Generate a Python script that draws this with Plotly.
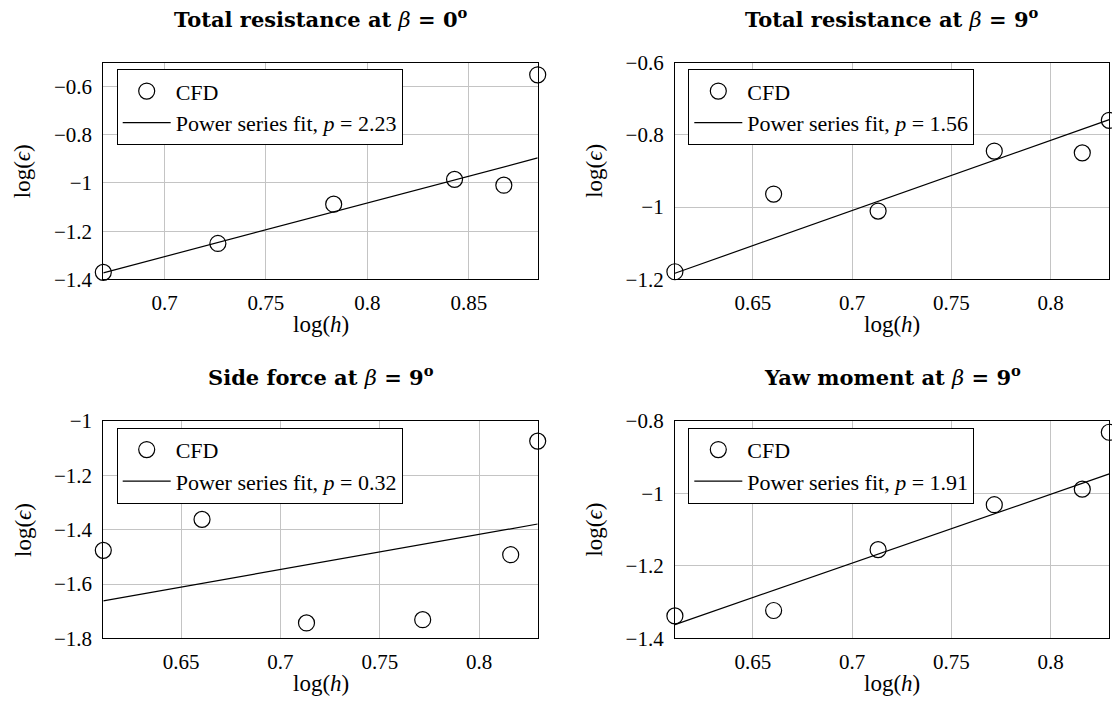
import plotly.graph_objects as go

# ---------------- data ----------------
titles = [
    "<b>Total resistance at </b><i>β</i><b> = 0<sup>o</sup></b>",
    "<b>Total resistance at </b><i>β</i><b> = 9<sup>o</sup></b>",
    "<b>Side force at </b><i>β</i><b> = 9<sup>o</sup></b>",
    "<b>Yaw moment at </b><i>β</i><b> = 9<sup>o</sup></b>",
]

log_h_beta0 = [0.6698, 0.7263, 0.7834, 0.8430, 0.8673, 0.8840]
log_h_beta9 = [0.6108, 0.6605, 0.7131, 0.7716, 0.8159, 0.8295]

eps_resistance_b0 = [-1.371, -1.251, -1.088, -0.985, -1.009, -0.551]
eps_resistance_b9 = [-1.179, -0.964, -1.011, -0.845, -0.850, -0.760]
eps_sideforce_b9 = [-1.476, -1.362, -1.743, -1.731, -1.492, -1.074]
eps_yaw_b9 = [-1.338, -1.323, -1.155, -1.031, -0.988, -0.831]

# fitted line values at the first and last log(h)
fit_resistance_b0 = [-1.373, -0.896]
fit_resistance_b9 = [-1.183, -0.758]
fit_sideforce_b9 = [-1.662, -1.379]
fit_yaw_b9 = [-1.362, -0.946]

p_values = ["2.23", "1.56", "0.32", "1.91"]

xticks_b0 = [0.7, 0.75, 0.8, 0.85]
xticklabels_b0 = ["0.7", "0.75", "0.8", "0.85"]
xticks_b9 = [0.65, 0.7, 0.75, 0.8]
xticklabels_b9 = ["0.65", "0.7", "0.75", "0.8"]

yticks = [
    [-1.4, -1.2, -1.0, -0.8, -0.6],
    [-1.2, -1.0, -0.8, -0.6],
    [-1.8, -1.6, -1.4, -1.2, -1.0],
    [-1.4, -1.2, -1.0, -0.8],
]
yticklabels = [
    ["−1.4", "−1.2", "−1", "−0.8", "−0.6"],
    ["−1.2", "−1", "−0.8", "−0.6"],
    ["−1.8", "−1.6", "−1.4", "−1.2", "−1"],
    ["−1.4", "−1.2", "−1", "−0.8"],
]
y_limits = [[-1.4, -0.5], [-1.2, -0.6], [-1.8, -1.0], [-1.4, -0.8]]

xs = [log_h_beta0, log_h_beta9, log_h_beta9, log_h_beta9]
eps = [eps_resistance_b0, eps_resistance_b9, eps_sideforce_b9, eps_yaw_b9]
fits = [fit_resistance_b0, fit_resistance_b9, fit_sideforce_b9, fit_yaw_b9]
xtv = [xticks_b0, xticks_b9, xticks_b9, xticks_b9]
xtt = [xticklabels_b0, xticklabels_b9, xticklabels_b9, xticklabels_b9]

# ---------------- layout geometry (px) ----------------
W, H = 1112, 711
col_px = [(103.3, 537.7), (674.9, 1109.3)]
row_px = [(52.3, 276.7), (423.3, 648.3)]
FONT = "Liberation Serif"
TITLE_FONT = "DejaVu Serif"
GRID = "#c4c4c4"


def fx(px):
    return px / W


def fy(py):
    return 1 - py / H


fig = go.Figure()
layout = dict(
    width=W, height=H,
    margin=dict(l=0, r=0, t=0, b=0),
    paper_bgcolor="white", plot_bgcolor="white",
    font=dict(family=FONT, size=21, color="black"),
    showlegend=True,
)
annotations = []

for i in range(4):
    r, c = divmod(i, 2)
    x0, x1 = col_px[c]
    y0, y1 = row_px[r]
    sfx = "" if i == 0 else str(i + 1)
    xa, ya, lg = "x" + sfx, "y" + sfx, "legend" + sfx

    fig.add_trace(go.Scatter(
        x=xs[i], y=eps[i], mode="markers", name="CFD",
        marker=dict(symbol="circle-open", size=16, color="black",
                    line=dict(width=1.2, color="black")),
        xaxis=xa, yaxis=ya, legend=lg, cliponaxis=False,
    ))
    fig.add_trace(go.Scatter(
        x=[xs[i][0], xs[i][-1]], y=fits[i], mode="lines",
        name=f"Power series fit, <i>p</i> = {p_values[i]}",
        line=dict(color="black", width=1.2),
        xaxis=xa, yaxis=ya, legend=lg,
    ))

    layout["xaxis" + sfx] = dict(
        domain=[fx(x0), fx(x1)], anchor=ya,
        range=[xs[i][0], xs[i][-1]],
        tickvals=xtv[i], ticktext=xtt[i],
        showgrid=True, gridcolor=GRID, gridwidth=1,
        showline=True, mirror=True, linecolor="black", linewidth=1,
        zeroline=False, ticks="", tickfont=dict(family=FONT, size=21),
        ticklabelstandoff=4,
    )
    layout["yaxis" + sfx] = dict(
        domain=[fy(y1), fy(y0)], anchor=xa,
        range=y_limits[i],
        tickvals=yticks[i], ticktext=yticklabels[i],
        showgrid=True, gridcolor=GRID, gridwidth=1,
        showline=True, mirror=True, linecolor="black", linewidth=1,
        zeroline=False, ticks="", tickfont=dict(family=FONT, size=21),
        ticklabelstandoff=6,
    )
    layout[lg] = dict(
        x=fx(x0 + 13.4), y=fy(y0 + 7), xanchor="left", yanchor="top",
        xref="paper", yref="paper",
        bgcolor="white", bordercolor="black", borderwidth=1,
        font=dict(family=FONT, size=22, color="black"),
        traceorder="normal", itemwidth=48,
    )
    # subplot title
    annotations.append(dict(
        text=titles[i], x=fx((x0 + x1) / 2), y=fy(y0 - 35),
        xref="paper", yref="paper", xanchor="center", yanchor="middle",
        yshift=11,
        showarrow=False, font=dict(family=TITLE_FONT, size=21, color="black"),
    ))
    # x axis title
    annotations.append(dict(
        text="log(<i>h</i>)", x=fx((x0 + x1) / 2), y=fy(y1 + 47),
        xref="paper", yref="paper", xanchor="center", yanchor="middle",
        showarrow=False, font=dict(family=FONT, size=23, color="black"),
    ))
    # y axis title
    annotations.append(dict(
        text="log(<i>ϵ</i>)", x=fx(x0 - 80), y=fy((y0 + y1) / 2),
        xref="paper", yref="paper", xanchor="center", yanchor="middle",
        textangle=-90, showarrow=False,
        font=dict(family=FONT, size=23, color="black"),
    ))

layout["annotations"] = annotations
fig.update_layout(**layout)
fig.write_html("out.html")
